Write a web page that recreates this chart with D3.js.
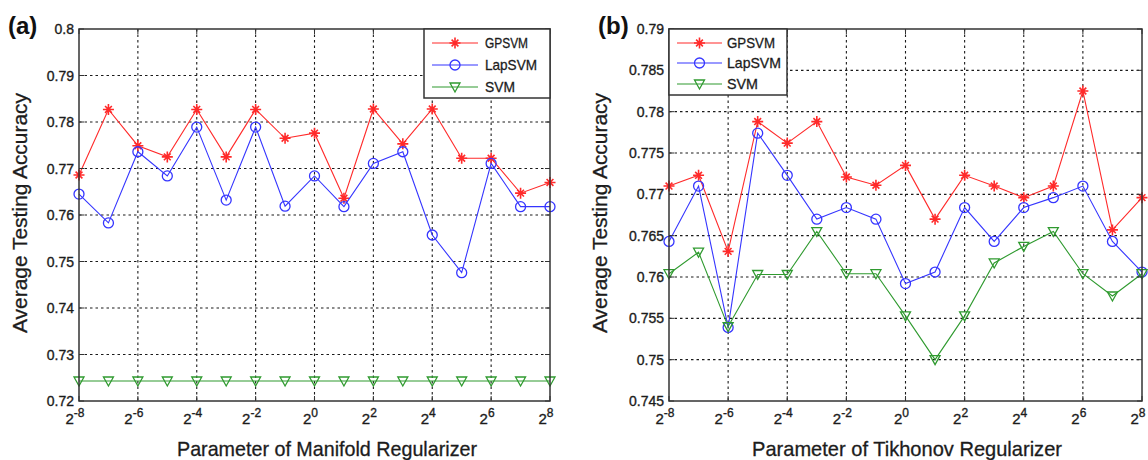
<!DOCTYPE html>
<html>
<head>
<meta charset="utf-8">
<script src="https://cdn.jsdelivr.net/npm/d3@7"></script>
<style>
  html, body { margin: 0; padding: 0; background: #fff; }
  svg { display: block; }
</style>
</head>
<body>
<div id="chart"></div>
<script>
// Parameter sweep: exponent k of 2^k
const exponents = [-8, -7, -6, -5, -4, -3, -2, -1, 0, 1, 2, 3, 4, 5, 6, 7, 8];
const xTickExponents = [-8, -6, -4, -2, 0, 2, 4, 6, 8];

// (a) Manifold regularizer
const manifoldYTicks = [0.72, 0.73, 0.74, 0.75, 0.76, 0.77, 0.78, 0.79, 0.80];
const manifoldGPSVM = [0.7686, 0.7827, 0.7749, 0.7725, 0.7827, 0.7725, 0.7827, 0.7765, 0.7776,
                       0.7636, 0.7828, 0.7753, 0.7828, 0.7722, 0.7722, 0.7647, 0.7670];
const manifoldLapSVM = [0.7645, 0.7583, 0.7736, 0.7684, 0.7789, 0.7632, 0.7789, 0.7619, 0.7684,
                        0.7618, 0.7711, 0.7736, 0.7557, 0.7476, 0.7711, 0.7618, 0.7618];
const manifoldSVM = [0.7243, 0.7243, 0.7243, 0.7243, 0.7243, 0.7243, 0.7243, 0.7243, 0.7243,
                     0.7243, 0.7243, 0.7243, 0.7243, 0.7243, 0.7243, 0.7243, 0.7243];

// (b) Tikhonov regularizer
const tikhonovYTicks = [0.745, 0.75, 0.755, 0.76, 0.765, 0.77, 0.775, 0.78, 0.785, 0.79];
const tikhonovGPSVM = [0.7710, 0.7723, 0.7631, 0.7788, 0.7762, 0.7788, 0.7721, 0.7711, 0.7735,
                       0.7670, 0.7723, 0.7710, 0.7696, 0.7710, 0.7825, 0.7657, 0.7696];
const tikhonovLapSVM = [0.7643, 0.7710, 0.7539, 0.7774, 0.7723, 0.7670, 0.7684, 0.7670, 0.7592,
                        0.7606, 0.7684, 0.7643, 0.7684, 0.7696, 0.7710, 0.7643, 0.7606];
const tikhonovSVM = [0.7604, 0.7630, 0.7540, 0.7603, 0.7603, 0.7655, 0.7604, 0.7604, 0.7553,
                     0.7500, 0.7553, 0.7617, 0.7637, 0.7655, 0.7604, 0.7577, 0.7604];

const seriesNames = ["GPSVM", "LapSVM", "SVM"];

const colors = { GPSVM: "#ff2a2a", LapSVM: "#3535ff", SVM: "#2f9a2f" };
const markerOf = { GPSVM: "star", LapSVM: "circle", SVM: "tri" };

const width = 1148, height = 460;
const tickFont = "'Liberation Sans', Arial, sans-serif";
const textColor = "#1c1c1c";

const svg = d3.select("#chart")
    .append("svg")
    .attr("width", width)
    .attr("height", height)
    .attr("viewBox", [0, 0, width, height]);

const panels = [
  {
    tag: "(a)", tagX: 8,
    left: 79, right: 550, top: 29, bottom: 401,
    yDomain: [0.72, 0.80], yTicks: manifoldYTicks,
    values: { GPSVM: manifoldGPSVM, LapSVM: manifoldLapSVM, SVM: manifoldSVM },
    yTitleX: 27, xTitle: "Parameter of Manifold Regularizer", xTitleX: 327, xTitleLen: 300,
    legend: { x: 424, y: 29, w: 126, h: 69, line0: 432, line1: 478, textX: 485, rows: [43, 65, 87], textLens: [43, 52, 30] }
  },
  {
    tag: "(b)", tagX: 598,
    left: 669, right: 1142, top: 29, bottom: 401,
    yDomain: [0.745, 0.79], yTicks: tikhonovYTicks,
    values: { GPSVM: tikhonovGPSVM, LapSVM: tikhonovLapSVM, SVM: tikhonovSVM },
    yTitleX: 607, xTitle: "Parameter of Tikhonov Regularizer", xTitleX: 907, xTitleLen: 310,
    legend: { x: 669, y: 29, w: 118, h: 66, line0: 677, line1: 722, textX: 727, rows: [43, 63, 84], textLens: [48, 54, 31] }
  }
];

function drawMarker(g, type, color) {
  if (type === "star") {
    g.append("path")
      .attr("d", "M0,-5.5V5.5M-5.5,0H5.5M-3.4,-3.4L3.4,3.4M-3.4,3.4L3.4,-3.4")
      .attr("stroke", color).attr("stroke-width", 1.6).attr("fill", "none");
  } else if (type === "circle") {
    g.append("circle").attr("r", 5)
      .attr("stroke", color).attr("stroke-width", 1.3).attr("fill", "none");
  } else {
    g.append("path").attr("d", "M-5,-4H5L0,5Z")
      .attr("stroke", color).attr("stroke-width", 1.3).attr("fill", "none");
  }
}

// slightly heavier text, like the original print
function inked(sel, w) {
  return sel.style("fill", textColor).style("stroke", textColor).style("stroke-width", w);
}

panels.forEach(function (p) {
  const x = d3.scaleLinear().domain([-8, 8]).range([p.left, p.right]);
  const y = d3.scaleLinear().domain(p.yDomain).range([p.bottom, p.top]);
  const g = svg.append("g");

  // Grid lines (dotted)
  const grid = g.append("g")
      .attr("stroke", "#1a1a1a")
      .attr("stroke-width", 1.1)
      .attr("stroke-dasharray", "2.5,3");
  grid.selectAll("line.gx")
    .data(xTickExponents.slice(1, -1))
    .join("line")
      .attr("x1", d => x(d)).attr("x2", d => x(d))
      .attr("y1", p.top).attr("y2", p.bottom);
  grid.selectAll("line.gy")
    .data(p.yTicks.slice(1, -1))
    .join("line")
      .attr("x1", p.left).attr("x2", p.right)
      .attr("y1", d => y(d)).attr("y2", d => y(d));

  // Series lines and markers
  seriesNames.forEach(function (name) {
    const vals = p.values[name];
    const pts = exponents.map((e, i) => [e, vals[i]]);
    g.append("path")
      .datum(pts)
      .attr("fill", "none")
      .attr("stroke", colors[name])
      .attr("stroke-width", 1.1)
      .attr("d", d3.line().x(d => x(d[0])).y(d => y(d[1])));
    g.append("g").selectAll("g")
      .data(pts)
      .join("g")
        .attr("transform", d => `translate(${x(d[0])},${y(d[1])})`)
        .each(function () { drawMarker(d3.select(this), markerOf[name], colors[name]); });
  });

  // Axis frame
  g.append("rect")
    .attr("x", p.left).attr("y", p.top)
    .attr("width", p.right - p.left).attr("height", p.bottom - p.top)
    .attr("fill", "none").attr("stroke", "#333").attr("stroke-width", 1.5);

  // Inward ticks
  const ticks = g.append("g").attr("stroke", "#333").attr("stroke-width", 1);
  xTickExponents.forEach(function (e) {
    ticks.append("line").attr("x1", x(e)).attr("x2", x(e)).attr("y1", p.bottom).attr("y2", p.bottom - 5);
    ticks.append("line").attr("x1", x(e)).attr("x2", x(e)).attr("y1", p.top).attr("y2", p.top + 5);
  });
  p.yTicks.forEach(function (v) {
    ticks.append("line").attr("x1", p.left).attr("x2", p.left + 5).attr("y1", y(v)).attr("y2", y(v));
    ticks.append("line").attr("x1", p.right).attr("x2", p.right - 5).attr("y1", y(v)).attr("y2", y(v));
  });

  // Y tick labels
  inked(g.append("g").selectAll("text")
    .data(p.yTicks)
    .join("text")
      .attr("x", p.left - 5)
      .attr("y", d => y(d))
      .attr("dy", "0.36em")
      .attr("text-anchor", "end")
      .style("font-family", tickFont)
      .style("font-size", "14px")
      .text(d => String(+d.toFixed(3))), 0.35);

  // X tick labels: 2^k
  const xl = inked(g.append("g").selectAll("text")
    .data(xTickExponents)
    .join("text")
      .attr("x", d => x(d) - 4)
      .attr("y", p.bottom + 23)
      .attr("text-anchor", "middle")
      .style("font-family", tickFont), 0.35);
  xl.append("tspan").style("font-size", "15px").text("2");
  xl.append("tspan").attr("dy", -7).style("font-size", "12px").text(d => String(d));

  // Axis titles
  inked(g.append("text")
    .attr("transform", `translate(${p.yTitleX},${(p.top + p.bottom) / 2 - 2}) rotate(-90)`)
    .attr("text-anchor", "middle")
    .attr("textLength", 240)
    .attr("lengthAdjust", "spacingAndGlyphs")
    .style("font-family", tickFont)
    .style("font-size", "21px")
    .text("Average Testing Accuracy"), 0.3);

  inked(g.append("text")
    .attr("x", p.xTitleX)
    .attr("y", 456)
    .attr("text-anchor", "middle")
    .attr("textLength", p.xTitleLen)
    .attr("lengthAdjust", "spacingAndGlyphs")
    .style("font-family", tickFont)
    .style("font-size", "21px")
    .text(p.xTitle), 0.3);

  // Panel tag
  g.append("text")
    .attr("x", p.tagX).attr("y", 34)
    .style("font-family", tickFont)
    .style("font-size", "24px")
    .style("font-weight", "bold")
    .style("fill", "#111")
    .text(p.tag);

  // Legend
  const L = p.legend;
  const lg = g.append("g");
  lg.append("rect")
    .attr("x", L.x).attr("y", L.y).attr("width", L.w).attr("height", L.h)
    .attr("fill", "#fff").attr("stroke", "#333").attr("stroke-width", 1.5);
  seriesNames.forEach(function (name, i) {
    const ry = L.rows[i];
    lg.append("line")
      .attr("x1", L.line0).attr("x2", L.line1).attr("y1", ry).attr("y2", ry)
      .attr("stroke", colors[name]).attr("stroke-width", 1.1);
    const m = lg.append("g").attr("transform", `translate(${(L.line0 + L.line1) / 2},${ry})`);
    drawMarker(m, markerOf[name], colors[name]);
    inked(lg.append("text")
      .attr("x", L.textX).attr("y", ry).attr("dy", "0.36em")
      .attr("textLength", L.textLens[i])
      .attr("lengthAdjust", "spacingAndGlyphs")
      .style("font-family", tickFont)
      .style("font-size", "15px")
      .text(name), 0.3);
  });
});
</script>
</body>
</html>
